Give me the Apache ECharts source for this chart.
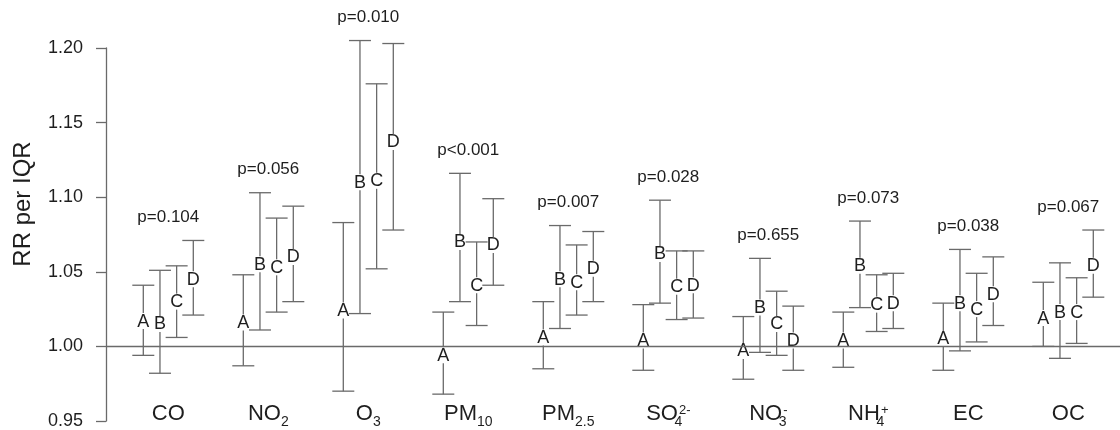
<!DOCTYPE html>
<html><head><meta charset="utf-8">
<script src="https://cdn.jsdelivr.net/npm/echarts@6/dist/echarts.min.js"></script>
<style>html,body{margin:0;padding:0;background:#fff}#c{width:1120px;height:430px}</style>
</head><body><div id="c"></div>
<script>
// ---- data ----
const categories = ['CO','NO2','O3','PM10','PM2.5','SO4','NO3','NH4','EC','OC'];
const categoryLabels = ['{n|CO}','{n|NO}{sub|2}','{n|O}{sub|3}','{n|PM}{sub|10}','{n|PM}{sub|2.5}',
  '{n|SO}{subx|4}{sup|2-}','{n|NO}{subx|3}{sup|-}','{n|NH}{subx|4}{sup|+}','{n|EC}','{n|OC}'];
const letters = ['A','B','C','D'];
const pLabels = ['p=0.104','p=0.056','p=0.010','p<0.001','p=0.007','p=0.028','p=0.655','p=0.073','p=0.038','p=0.067'];

const estA  = [1.017, 1.016, 1.024, 0.994, 1.006, 1.004, 0.997, 1.004, 1.005, 1.019];
const lowA  = [0.994, 0.987, 0.970, 0.968, 0.985, 0.984, 0.978, 0.986, 0.984, 1.000];
const highA = [1.041, 1.048, 1.083, 1.023, 1.030, 1.028, 1.020, 1.023, 1.029, 1.043];

const estB  = [1.015, 1.055, 1.110, 1.070, 1.045, 1.062, 1.026, 1.054, 1.029, 1.023];
const lowB  = [0.982, 1.011, 1.022, 1.030, 1.012, 1.029, 0.996, 1.026, 0.997, 0.992];
const highB = [1.051, 1.103, 1.205, 1.116, 1.081, 1.098, 1.059, 1.084, 1.065, 1.056];

const estC  = [1.030, 1.053, 1.111, 1.041, 1.043, 1.040, 1.015, 1.028, 1.025, 1.023];
const lowC  = [1.006, 1.023, 1.052, 1.014, 1.021, 1.018, 0.994, 1.010, 1.003, 1.002];
const highC = [1.054, 1.086, 1.176, 1.070, 1.068, 1.064, 1.037, 1.048, 1.049, 1.046];

const estD  = [1.045, 1.060, 1.137, 1.068, 1.052, 1.041, 1.004, 1.029, 1.035, 1.054];
const lowD  = [1.021, 1.030, 1.078, 1.041, 1.030, 1.019, 0.984, 1.012, 1.014, 1.033];
const highD = [1.071, 1.094, 1.203, 1.099, 1.077, 1.064, 1.027, 1.049, 1.060, 1.078];

const yMin = 0.95, yMax = 1.20, yStep = 0.05;

// ---- build ----
const est = [estA, estB, estC, estD], low = [lowA, lowB, lowC, lowD], high = [highA, highB, highC, highD];
const letterOffset = [-0.25, -0.0833, 0.0833, 0.25];
const barData = [];
categories.forEach((c, i) => {
  letters.forEach((L, j) => {
    barData.push([i, letterOffset[j], low[j][i], est[j][i], high[j][i], j]);
  });
});
const pData = categories.map((c, i) => [i, Math.max(highA[i], highB[i], highC[i], highD[i]), i]);

const FONT = '"Liberation Sans", Arial, sans-serif';
const LINE = '#6a6a6a';
const TEXT = '#1e1e1e';

function renderBar(params, api) {
  const xv = api.value(0) + api.value(1);
  const pLow = api.coord([xv, api.value(2)]);
  const pEst = api.coord([xv, api.value(3)]);
  const pHigh = api.coord([xv, api.value(4)]);
  const x = pEst[0];
  const cap = 11, gap = 8;
  const st = {stroke: LINE, lineWidth: 1.3};
  return {
    type: 'group',
    children: [
      {type: 'line', shape: {x1: x - cap, y1: pHigh[1], x2: x + cap, y2: pHigh[1]}, style: st},
      {type: 'line', shape: {x1: x - cap, y1: pLow[1], x2: x + cap, y2: pLow[1]}, style: st},
      {type: 'line', shape: {x1: x, y1: pHigh[1], x2: x, y2: pEst[1] - gap}, style: st},
      {type: 'line', shape: {x1: x, y1: pEst[1] + gap, x2: x, y2: pLow[1]}, style: st},
      {type: 'text', x: x, y: pEst[1] + 0.5, style: {
        text: letters[api.value(5)], fill: TEXT, font: '18px ' + FONT,
        align: 'center', verticalAlign: 'middle', textAlign: 'center', textVerticalAlign: 'middle'}}
    ]
  };
}
function renderP(params, api) {
  const p = api.coord([api.value(0), api.value(1)]);
  return {type: 'text', x: p[0], y: p[1] - 23, style: {
    text: pLabels[api.value(2)], fill: TEXT, font: '17px ' + FONT,
    align: 'center', verticalAlign: 'middle', textAlign: 'center', textVerticalAlign: 'middle'}};
}

const chart = echarts.init(document.getElementById('c'), null, {renderer: 'canvas'});
chart.setOption({
  animation: false,
  backgroundColor: '#fff',
  grid: [
    {left: 106, right: 0, top: 48, bottom: 7},
    {left: 118.3, right: 1.7, top: 48, bottom: 0}
  ],
  xAxis: [
    {type: 'value', gridIndex: 0, min: -0.623, max: 9.517, show: false},
    {type: 'category', gridIndex: 1, data: categories, boundaryGap: true, position: 'bottom',
     axisLine: {show: false, onZero: false}, axisTick: {show: false}, splitLine: {show: false},
     axisLabel: {inside: true, margin: 0.5, interval: 0,
       formatter: (v, i) => categoryLabels[i],
       rich: {
         n: {fontSize: 22, lineHeight: 27, verticalAlign: 'top', color: TEXT, fontFamily: FONT},
         sub: {fontSize: 14, lineHeight: 14, padding: [13, 0, 0, 0], verticalAlign: 'top', color: TEXT, fontFamily: FONT},
         subx: {fontSize: 14, lineHeight: 14, width: 1, padding: [13, 0, 0, 0], verticalAlign: 'top', color: TEXT, fontFamily: FONT},
         sup: {fontSize: 13, lineHeight: 13, padding: [1, 0, 0, 0], verticalAlign: 'top', color: TEXT, fontFamily: FONT}
       }}}
  ],
  yAxis: [
    {type: 'value', gridIndex: 0, min: yMin, max: yMax, interval: yStep,
     axisLine: {show: true, onZero: false, lineStyle: {color: LINE, width: 1.3}},
     axisTick: {show: true, length: 10, lineStyle: {color: LINE, width: 1.3}},
     splitLine: {show: false},
     axisLabel: {margin: 23, fontSize: 18, color: TEXT, fontFamily: FONT, formatter: v => v.toFixed(2)}},
    {type: 'value', gridIndex: 1, min: 0, max: 1, show: false}
  ],
  graphic: [
    {type: 'text', x: 23, y: 204, rotation: Math.PI / 2, style: {
      text: 'RR per IQR', fill: TEXT, font: '24px ' + FONT,
      align: 'center', verticalAlign: 'middle', textAlign: 'center', textVerticalAlign: 'middle'}}
  ],
  series: [
    {type: 'custom', xAxisIndex: 0, yAxisIndex: 0, data: barData, renderItem: renderBar, clip: false,
     markLine: {silent: true, symbol: 'none', label: {show: false}, animation: false,
       lineStyle: {color: LINE, width: 1.3, type: 'solid'}, data: [{yAxis: 1}]}},
    {type: 'custom', xAxisIndex: 0, yAxisIndex: 0, data: pData, renderItem: renderP, clip: false}
  ]
});
</script></body></html>
